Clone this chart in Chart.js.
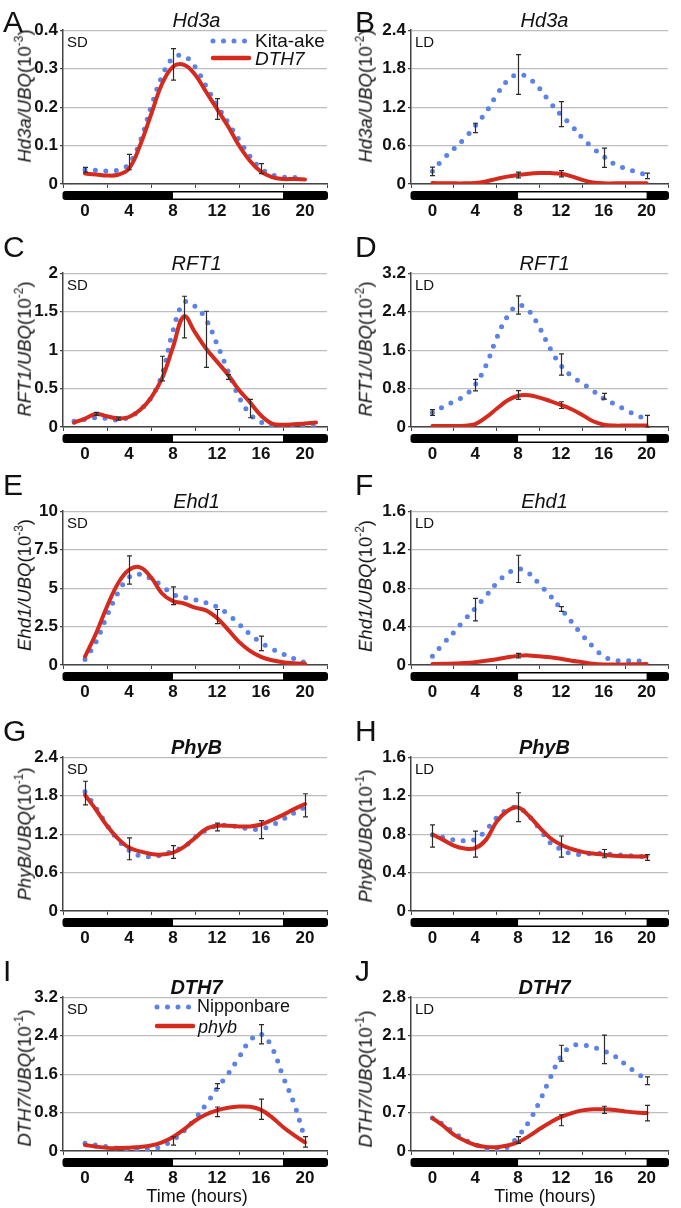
<!DOCTYPE html>
<html>
<head>
<meta charset="utf-8">
<script src="https://cdn.jsdelivr.net/npm/chart.js@4.4.1/dist/chart.umd.min.js"></script>
<style>
  body { margin: 0; background: #fff; width: 681px; height: 1208px; position: relative; overflow: hidden;
         font-family: 'Liberation Sans', Arial, sans-serif; color: #111; }
  canvas { position: absolute; }
  .t { position: absolute; line-height: 1; white-space: nowrap; }
  .c { transform: translateX(-50%); }
  .yt { position: absolute; line-height: 1; white-space: nowrap; font-size: 18.5px;
        transform: translate(-50%, -50%) rotate(-90deg); }
  .sup { font-size: 12px; position: relative; top: -8px; }
</style>
</head>
<body>
<script>
// horas del eje x
const hours = [0,1,2,3,4,5,6,7,8,9,10,11,12,13,14,15,16,17,18,19,20];
const hoursC = [-1,0,1,2,3,4,5,6,7,8,9,10,11,12,13,14,15,16,17,18,19,20,21];

// A - Hd3a SD
const aBlue = [0.037,0.036,0.034,0.036,0.052,0.11,0.20,0.28,0.328,0.333,0.305,0.255,0.205,0.16,0.115,0.072,0.04,0.024,0.018,0.017,0.016];
const aRed  = [0.027,0.025,0.022,0.024,0.04,0.10,0.18,0.26,0.305,0.31,0.285,0.24,0.195,0.15,0.10,0.06,0.032,0.018,0.013,0.013,0.012];
const aErrH = [0,4,8,12,16];
const aErrMid = [0.037,0.057,0.311,0.195,0.04];
const aErrHalf = [0.006,0.02,0.041,0.027,0.013];

// B - Hd3a LD
const bBlue = [0.2,0.39,0.55,0.71,0.91,1.12,1.39,1.61,1.71,1.65,1.49,1.27,1.08,0.91,0.72,0.56,0.43,0.31,0.245,0.19,0.14];
const bRed  = [0.015,0.012,0.01,0.01,0.015,0.04,0.08,0.115,0.14,0.16,0.17,0.17,0.16,0.12,0.065,0.025,0.01,0.01,0.01,0.01,0.012];
const bErrH = [0,4,8,12,16,20,8,12];
const bErrMid = [0.197,0.875,1.71,1.09,0.41,0.127,0.14,0.16];
const bErrHalf = [0.065,0.073,0.31,0.195,0.15,0.044,0.045,0.05];

// C - RFT1 SD
const cBlue = [0.075,0.10,0.12,0.11,0.09,0.13,0.22,0.38,0.68,1.25,1.62,1.57,1.40,1.08,0.73,0.39,0.17,0.065,0.02,0.01,0.005,0.005,0.005];
const cRed  = [0.055,0.11,0.17,0.14,0.11,0.13,0.22,0.38,0.63,1.04,1.44,1.23,1.02,0.85,0.68,0.48,0.32,0.15,0.045,0.03,0.035,0.045,0.057];
const cErrH = [1,3,7,9,11,13,15];
const cErrMid = [0.17,0.11,0.76,1.43,1.14,0.65,0.24];
const cErrHalf = [0.02,0.02,0.16,0.27,0.365,0.03,0.12];

// D - RFT1 LD
const dBlue = [0.30,0.42,0.53,0.65,0.88,1.28,1.85,2.30,2.53,2.42,2.07,1.63,1.28,1.06,0.91,0.75,0.59,0.48,0.36,0.25,0.16];
const dRed  = [0.02,0.02,0.02,0.025,0.06,0.2,0.38,0.55,0.65,0.66,0.61,0.54,0.46,0.37,0.25,0.12,0.05,0.03,0.03,0.03,0.03];
const dErrH = [0,4,8,12,16,20,8,12];
const dErrMid = [0.30,0.87,2.54,1.30,0.64,0.12,0.665,0.455];
const dErrHalf = [0.06,0.12,0.19,0.22,0.06,0.12,0.09,0.07];

// E - Ehd1 SD
const eBlue = [0.35,1.5,3.2,4.7,5.7,5.9,5.6,5.15,4.6,4.4,4.25,4.05,3.78,3.3,2.65,2.0,1.45,1.05,0.72,0.42,0.15];
const eRed  = [0.55,2.05,3.8,5.3,6.18,6.35,5.7,4.65,4.15,4.0,3.73,3.55,3.05,2.3,1.5,0.92,0.53,0.31,0.18,0.12,0.08];
const eErrH = [4,8,12,16];
const eErrMid = [6.18,4.5,3.15,1.41];
const eErrHalf = [0.92,0.58,0.46,0.47];

// F - Ehd1 LD
const fBlue = [0.09,0.22,0.34,0.47,0.59,0.72,0.85,0.95,1.0,0.955,0.84,0.72,0.585,0.45,0.31,0.19,0.09,0.05,0.045,0.045,0.035];
const fRed  = [0.01,0.012,0.015,0.02,0.03,0.045,0.06,0.08,0.095,0.1,0.09,0.08,0.065,0.045,0.03,0.012,0.005,0.005,0.005,0.008,0.01];
const fErrH = [4,8,12,8];
const fErrMid = [0.577,1.0,0.583,0.097];
const fErrHalf = [0.117,0.142,0.025,0.024];

// G - PhyB SD
const gBlue = [1.86,1.61,1.34,1.11,0.95,0.86,0.85,0.875,0.94,1.0,1.15,1.26,1.33,1.335,1.31,1.28,1.28,1.34,1.43,1.53,1.62];
const gRed  = [1.81,1.58,1.33,1.13,0.99,0.93,0.89,0.88,0.91,1.0,1.14,1.28,1.33,1.33,1.32,1.32,1.35,1.42,1.5,1.59,1.67];
const gErrH = [0,4,8,12,16,20];
const gErrMid = [1.84,0.97,0.92,1.31,1.27,1.65];
const gErrHalf = [0.185,0.17,0.1,0.06,0.14,0.18];

// H - PhyB LD
const hBlue = [0.79,0.765,0.74,0.73,0.745,0.84,0.97,1.055,1.077,0.99,0.855,0.71,0.64,0.595,0.59,0.6,0.597,0.585,0.58,0.572,0.562];
const hRed  = [0.795,0.74,0.68,0.65,0.655,0.74,0.93,1.04,1.077,0.99,0.87,0.76,0.69,0.645,0.615,0.598,0.586,0.575,0.57,0.568,0.568];
const hErrH = [0,4,8,12,16,20];
const hErrMid = [0.78,0.695,1.08,0.67,0.597,0.557];
const hErrHalf = [0.115,0.135,0.15,0.11,0.043,0.03];

// I - DTH7 SD
const iBlue = [0.16,0.125,0.09,0.055,0.04,0.03,0.04,0.1,0.23,0.42,0.67,0.97,1.30,1.60,1.95,2.3,2.43,2.15,1.55,0.99,0.25];
const iRed  = [0.125,0.09,0.065,0.06,0.07,0.085,0.115,0.18,0.29,0.45,0.63,0.76,0.845,0.9,0.925,0.92,0.855,0.70,0.50,0.33,0.18];
const iErrH = [8,12,12,16,16,20];
const iErrMid = [0.21,1.35,0.815,2.43,0.87,0.19];
const iErrHalf = [0.087,0.05,0.1,0.2,0.21,0.11];

// J - DTH7 LD
const jBlue = [0.6,0.48,0.34,0.21,0.12,0.04,0.005,0.07,0.27,0.53,0.9,1.33,1.72,1.91,1.93,1.89,1.82,1.73,1.58,1.43,1.3];
const jRed  = [0.6,0.46,0.3,0.19,0.11,0.075,0.07,0.1,0.16,0.27,0.4,0.52,0.62,0.69,0.74,0.76,0.76,0.745,0.72,0.7,0.69];
const jErrH = [8,12,12,16,16,20,20];
const jErrMid = [0.2,1.78,0.56,1.85,0.75,1.28,0.69];
const jErrHalf = [0.06,0.145,0.1,0.26,0.065,0.07,0.14];

const BLUE = '#5b82e6';
const RED = '#d52b1e';

// posiciones de cada fila y columna
const rowTops = [30, 273, 511, 757, 997];
const plotH = 154, plotW = 267;
const colPlotLeft = [63, 411];
const colCanvasLeft = [0, 340];
const colCanvasW = [340, 341];

const panels = [
  {letter:'A', col:0, row:0, gene:'Hd3a', exp:'-3', photo:'SD', max:0.4, step:0.1, x:hours, blue:aBlue, red:aRed, errH:aErrH, errMid:aErrMid, errHalf:aErrHalf, yc:96},
  {letter:'B', col:1, row:0, gene:'Hd3a', exp:'-2', photo:'LD', max:2.4, step:0.6, x:hours, blue:bBlue, red:bRed, errH:bErrH, errMid:bErrMid, errHalf:bErrHalf, yc:96},
  {letter:'C', col:0, row:1, gene:'RFT1', exp:'-2', photo:'SD', max:2, step:0.5, x:hoursC, blue:cBlue, red:cRed, errH:cErrH, errMid:cErrMid, errHalf:cErrHalf, yc:349},
  {letter:'D', col:1, row:1, gene:'RFT1', exp:'-2', photo:'LD', max:3.2, step:0.8, x:hours, blue:dBlue, red:dRed, errH:dErrH, errMid:dErrMid, errHalf:dErrHalf, yc:349},
  {letter:'E', col:0, row:2, gene:'Ehd1', exp:'-3', photo:'SD', max:10, step:2.5, x:hours, blue:eBlue, red:eRed, errH:eErrH, errMid:eErrMid, errHalf:eErrHalf, yc:585},
  {letter:'F', col:1, row:2, gene:'Ehd1', exp:'-2', photo:'LD', max:1.6, step:0.4, x:hours, blue:fBlue, red:fRed, errH:fErrH, errMid:fErrMid, errHalf:fErrHalf, yc:586},
  {letter:'G', col:0, row:3, gene:'PhyB', exp:'-1', photo:'SD', max:2.4, step:0.6, x:hours, blue:gBlue, red:gRed, errH:gErrH, errMid:gErrMid, errHalf:gErrHalf, yc:834, bold:true},
  {letter:'H', col:1, row:3, gene:'PhyB', exp:'-1', photo:'LD', max:1.6, step:0.4, x:hours, blue:hBlue, red:hRed, errH:hErrH, errMid:hErrMid, errHalf:hErrHalf, yc:836, bold:true},
  {letter:'I', col:0, row:4, gene:'DTH7', exp:'-1', photo:'SD', max:3.2, step:0.8, x:hours, blue:iBlue, red:iRed, errH:iErrH, errMid:iErrMid, errHalf:iErrHalf, yc:1078, bold:true},
  {letter:'J', col:1, row:4, gene:'DTH7', exp:'-1', photo:'LD', max:2.8, step:0.7, x:hours, blue:jBlue, red:jRed, errH:jErrH, errMid:jErrMid, errHalf:jErrHalf, yc:1079, bold:true}
];

Chart.defaults.font.family = "'Liberation Sans', Arial, sans-serif";
Chart.defaults.color = '#111';

function addDiv(cls, html, style) {
  const d = document.createElement('div');
  d.className = cls;
  d.innerHTML = html;
  d.setAttribute('style', style);
  document.body.appendChild(d);
  return d;
}

function addSample(left, cy, dotted) {
  const ns = 'http://www.w3.org/2000/svg';
  const svg = document.createElementNS(ns, 'svg');
  svg.setAttribute('width', 44);
  svg.setAttribute('height', 10);
  svg.style.position = 'absolute';
  svg.style.left = (left - 4) + 'px';
  svg.style.top = (cy - 5) + 'px';
  const ln = document.createElementNS(ns, 'line');
  ln.setAttribute('x1', 4); ln.setAttribute('x2', 40);
  ln.setAttribute('y1', 5); ln.setAttribute('y2', 5);
  ln.setAttribute('stroke', dotted ? BLUE : RED);
  ln.setAttribute('stroke-width', dotted ? 5 : 4.5);
  ln.setAttribute('stroke-linecap', 'round');
  if (dotted) ln.setAttribute('stroke-dasharray', '0 10.5');
  svg.appendChild(ln);
  document.body.appendChild(svg);
}

// plugin: barras de error y barra día/noche
function makeExtras(p) {
  return {
    id: 'extras' + p.letter,
    afterDatasetsDraw(chart) {
      const { ctx, scales: { x, y } } = chart;
      ctx.save();
      ctx.strokeStyle = '#2b2b2b';
      ctx.lineWidth = 1.2;
      p.errH.forEach((h, i) => {
        const px = Math.round(x.getPixelForValue(h)) + 0.5;
        const top = y.getPixelForValue(p.errMid[i] + p.errHalf[i]);
        const bot = y.getPixelForValue(Math.max(0, p.errMid[i] - p.errHalf[i]));
        ctx.beginPath();
        ctx.moveTo(px, top); ctx.lineTo(px, bot);
        ctx.moveTo(px - 2.5, top); ctx.lineTo(px + 2.5, top);
        ctx.moveTo(px - 2.5, bot); ctx.lineTo(px + 2.5, bot);
        ctx.stroke();
      });
      ctx.restore();
    },
    afterDraw(chart) {
      const { ctx, chartArea, scales: { x } } = chart;
      const x0 = x.getPixelForValue(-2) - 0.5, x1 = x.getPixelForValue(22) + 1;
      const top = chartArea.bottom + 7, h = 9;
      ctx.save();
      ctx.fillStyle = '#000';
      ctx.beginPath();
      ctx.roundRect(x0, top, x1 - x0, h, 3);
      ctx.fill();
      const w0 = x.getPixelForValue(8);
      const w1 = x.getPixelForValue(p.photo === 'SD' ? 18 : 20);
      ctx.fillStyle = '#fff';
      ctx.fillRect(w0, top + 1.5, w1 - w0, h - 3);
      ctx.restore();
    }
  };
}

panels.forEach(p => {
  const plotTop = rowTops[p.row];
  const plotLeft = colPlotLeft[p.col];
  const cLeft = colCanvasLeft[p.col];
  const cW = colCanvasW[p.col];
  const canvas = document.createElement('canvas');
  canvas.width = cW;
  canvas.height = 12 + plotH + 46;
  canvas.style.left = cLeft + 'px';
  canvas.style.top = (plotTop - 12) + 'px';
  canvas.style.width = cW + 'px';
  canvas.style.height = canvas.height + 'px';
  document.body.appendChild(canvas);

  new Chart(canvas, {
    type: 'line',
    data: {
      datasets: [
        {
          label: 'red',
          data: p.x.map((h, i) => ({ x: h, y: p.red[i] })),
          borderColor: RED,
          borderWidth: 4,
          borderCapStyle: 'round',
          tension: 0.4,
          pointRadius: 0,
          fill: false
        },
        {
          label: 'blue',
          data: p.x.map((h, i) => ({ x: h, y: p.blue[i] })),
          borderColor: BLUE,
          borderWidth: 5,
          borderDash: [0, 10.5],
          borderCapStyle: 'round',
          tension: 0.4,
          pointRadius: 0,
          fill: false
        }
      ]
    },
    options: {
      responsive: false,
      animation: false,
      events: [],
      layout: { padding: { top: 12, right: cLeft + cW - (plotLeft + plotW), left: 0, bottom: 0 } },
      plugins: { legend: { display: false }, tooltip: { enabled: false } },
      scales: {
        x: {
          type: 'linear',
          min: -2,
          max: 22,
          afterFit: s => { s.height = 46; },
          border: { color: '#444', width: 1.5 },
          grid: {
            drawOnChartArea: false,
            tickLength: 4,
            color: c => (c.tick && c.tick.value % 4 !== 0) ? '#444' : 'rgba(0,0,0,0)'
          },
          ticks: {
            stepSize: 2,
            autoSkip: false,
            maxRotation: 0,
            padding: 13,
            font: { size: 17, weight: 'bold' },
            callback: v => (v % 4 === 0 && v >= 0 && v <= 20) ? String(v) : ''
          }
        },
        y: {
          min: 0,
          max: p.max,
          afterFit: s => { s.width = plotLeft - cLeft; },
          border: { color: '#444', width: 1.5 },
          grid: { color: '#bdbdbd', lineWidth: 1.2, tickLength: 3, tickColor: '#444' },
          ticks: {
            stepSize: p.step,
            padding: 2,
            font: { size: 17, weight: 'bold' },
            callback: v => String(+v.toFixed(2))
          }
        }
      }
    },
    plugins: [makeExtras(p)]
  });

  // textos
  const letterLeft = p.col === 0 ? 3 : 355;
  addDiv('t', p.letter, `left:${letterLeft}px;top:${plotTop - 27 + (p.row === 0 ? 4 : -14)}px;font-size:30px;`);
  addDiv('t c', p.gene, `left:${plotLeft + plotW / 2}px;top:${plotTop - 20}px;font-size:20px;font-style:italic;font-weight:${p.bold ? 'bold' : 'normal'};`);
  addDiv('t', p.photo, `left:${plotLeft + 4}px;top:${plotTop + 4}px;font-size:15px;`);
  const yx = p.col === 0 ? 25 : 366;
  addDiv('yt', `<i>${p.gene}/UBQ</i>(10<span class="sup">${p.exp}</span>)`, `left:${yx}px;top:${p.yc}px;`);
});

// leyendas
addSample(213, 41, true);
addSample(213, 58, false);
addDiv('t', 'Kita-ake', 'left:255px;top:31px;font-size:19px;');
addDiv('t', '<i>DTH7</i>', 'left:255px;top:49px;font-size:19px;');

addSample(157, 1007, true);
addSample(157, 1026, false);
addDiv('t', 'Nipponbare', 'left:197px;top:997px;font-size:18px;');
addDiv('t', '<i>phyb</i>', 'left:198px;top:1018px;font-size:18px;');

addDiv('t c', 'Time (hours)', 'left:197px;top:1187px;font-size:18px;');
addDiv('t c', 'Time (hours)', 'left:545px;top:1187px;font-size:18px;');
</script>
</body>
</html>
